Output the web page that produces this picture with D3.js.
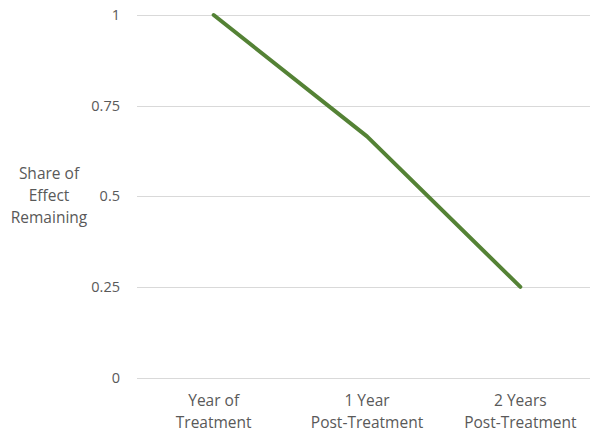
<!DOCTYPE html>
<html><head><meta charset="utf-8">
<script src="https://cdn.jsdelivr.net/npm/d3@7"></script>
<style>body{margin:0;background:#fff;}svg{display:block;font-family:"Open Sans",sans-serif;}</style>
</head><body><svg id="c" width="590" height="429"></svg>
<script>
const categories = [["Year of", "Treatment"], ["1 Year", "Post-Treatment"], ["2 Years", "Post-Treatment"]];
const values = [1, 0.665, 0.25];
const yTicks = [0, 0.25, 0.5, 0.75, 1];
const yTitle = ["Share of", "Effect", "Remaining"];

(function() {
const svg = d3.select("#c");
const mLeft = 137, mRight = 597, mTop = 15, mBottom = 377.5;
const x = d3.scaleBand().domain(d3.range(categories.length)).range([mLeft, mRight]);
const y = d3.scaleLinear().domain([0, 1]).range([mBottom, mTop]);
const textColor = "#595959";

svg.append("g").selectAll("line").data(yTicks).join("line")
  .attr("x1", mLeft).attr("x2", mRight)
  .attr("y1", d => Math.round(y(d)) + 0.5).attr("y2", d => Math.round(y(d)) + 0.5)
  .attr("stroke", "#d9d9d9").attr("stroke-width", 1);

const yAxis = d3.axisLeft(y).tickValues(yTicks).tickFormat(d => String(d)).tickSize(0).tickPadding(17);
const ga = svg.append("g").attr("transform", `translate(${mLeft},0)`).call(yAxis);
ga.select(".domain").remove();
ga.selectAll("text").attr("fill", textColor).attr("font-size", 14.5).attr("font-family", "'Open Sans',sans-serif");

const xAxis = d3.axisBottom(x).tickSize(0).tickFormat(() => "");
const gx = svg.append("g").attr("transform", `translate(0,${mBottom})`).call(xAxis);
gx.select(".domain").remove();
gx.selectAll(".tick").each(function(d) {
  const t = d3.select(this).append("text").attr("fill", textColor).attr("font-size", 15.5)
    .attr("font-family", "'Open Sans',sans-serif").attr("text-anchor", "middle");
  categories[d].forEach((s, i) => t.append("tspan").attr("x", 0).attr("y", 28.5 + i * 21.5).text(s));
});

const tt = svg.append("text").attr("fill", textColor).attr("font-size", 15.5).attr("text-anchor", "middle");
yTitle.forEach((s, i) => tt.append("tspan").attr("x", 49).attr("y", 178.5 + i * 22).text(s));

const line = d3.line().x((d, i) => x(i) + x.bandwidth() / 2).y(d => y(d));
svg.append("path").datum(values).attr("d", line).attr("fill", "none")
  .attr("stroke", "#548235").attr("stroke-width", 4).attr("stroke-linecap", "round").attr("stroke-linejoin", "round");
})();
</script></body></html>
